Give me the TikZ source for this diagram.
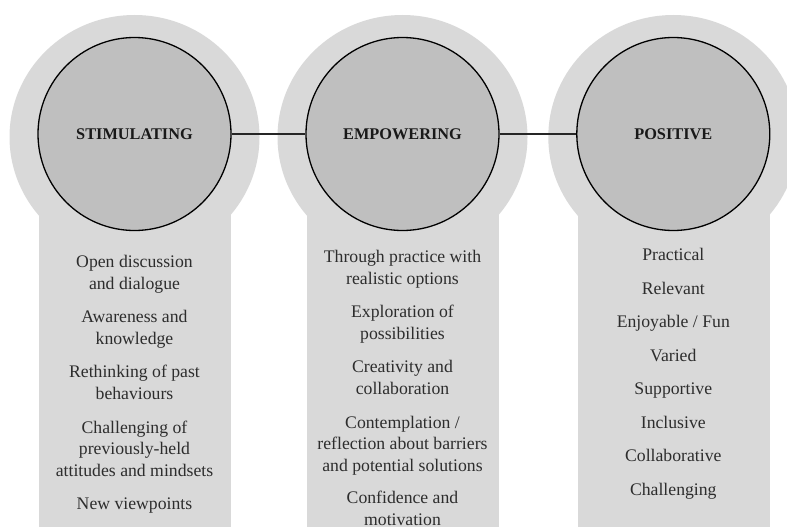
\documentclass[tikz,border=0pt]{standalone}
\usepackage{fontspec}
\setmainfont{Liberation Serif}
\definecolor{bgray}{RGB}{217,217,217}
\definecolor{cgray}{RGB}{191,191,191}
\definecolor{tgray}{RGB}{45,45,45}
\begin{document}
\begin{tikzpicture}[x=1pt,y=-1pt,
  bgshape/.style={fill=bgray,draw=none},
  hub/.style={circle,minimum size=193pt,inner sep=0pt,fill=cgray,draw=black,line width=1.3pt,
    font=\fontsize{16.3}{19}\selectfont\bfseries,text=black!90},
  link/.style={draw=black!85,line width=1.3pt},
  item/.style={anchor=base,align=center,inner sep=0pt,text=tgray,
    font=\fontsize{17.7}{21.3}\selectfont}]
\useasboundingbox (0,0) rectangle (787,527);
\clip (0,0) rectangle (787,527);
% background shapes
\foreach \cx in {134.5,402.5,673.3}{
  \fill[bgshape] (\cx,137) ellipse [x radius=125, y radius=122];
  \fill[bgshape] (\cx-95.5,190) rectangle (\cx+96.5,527);
}
% hubs
\node[hub] (s) at (134.5,134) {STIMULATING};
\node[hub] (e) at (402.5,134) {EMPOWERING};
\node[hub] (p) at (673.3,134) {POSITIVE};
\draw[link] (s) -- (e);
\draw[link] (e) -- (p);
% column 1 (anchor = baseline of last line)
\node[item] (s1) at (134.5,289) {Open discussion\\and dialogue};
\node[item] (s2) at (134.5,344) {Awareness and\\knowledge};
\node[item] (s3) at (134.5,399) {Rethinking of past\\behaviours};
\node[item] (s4) at (134.5,476) {Challenging of\\previously-held\\attitudes and mindsets};
\node[item] (s5) at (134.5,509) {New viewpoints};
% column 2
\node[item] (e1) at (402.5,284) {Through practice with\\realistic options};
\node[item] (e2) at (402.5,339) {Exploration of\\possibilities};
\node[item] (e3) at (402.5,394) {Creativity and\\collaboration};
\node[item] (e4) at (402.5,471) {Contemplation /\\reflection about barriers\\and potential solutions};
\node[item] (e5) at (402.5,525) {Confidence and\\motivation};
% column 3
\node[item] (p1) at (673.3,260.5) {Practical};
\node[item] (p2) at (673.3,294) {Relevant};
\node[item] (p3) at (673.3,327.5) {Enjoyable / Fun};
\node[item] (p4) at (673.3,361) {Varied};
\node[item] (p5) at (673.3,394.5) {Supportive};
\node[item] (p6) at (673.3,428) {Inclusive};
\node[item] (p7) at (673.3,461.5) {Collaborative};
\node[item] (p8) at (673.3,495) {Challenging};
\end{tikzpicture}
\end{document}
